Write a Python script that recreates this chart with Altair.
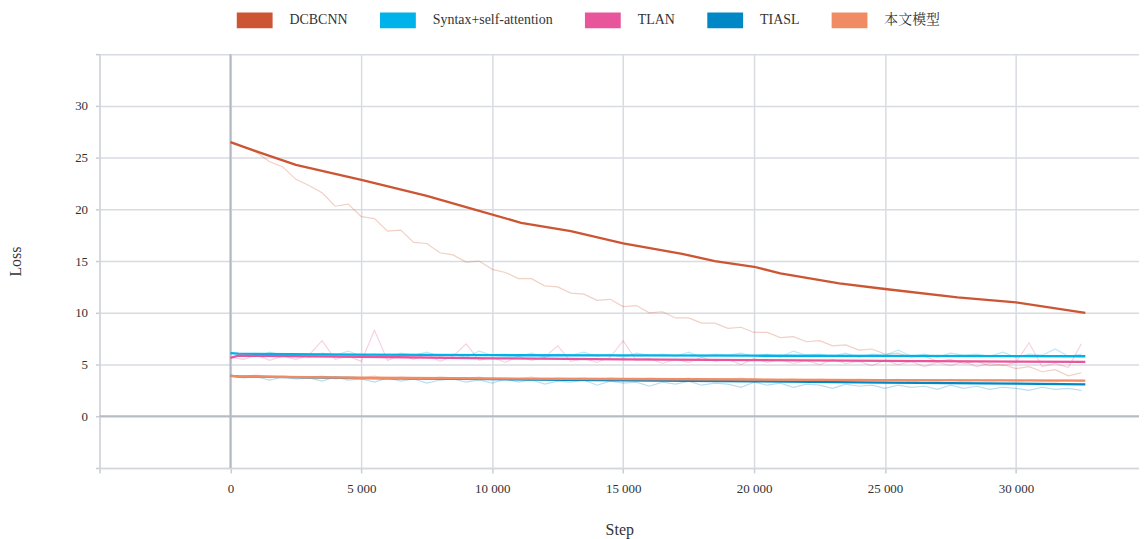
import altair as alt
import pandas as pd

FONT = "Liberation Serif, Noto Serif CJK SC, Noto Sans CJK SC, serif"

models = ["DCBCNN", "Syntax+self-attention", "TLAN", "TIASL", "本文模型"]
colors = ["#cc5533", "#00b2ea", "#e9559b", "#0088c6", "#f08b63"]

# raw (unsmoothed) loss, sampled every 500 steps
raw_steps = list(range(0, 33000, 500))
dcbcnn_raw = [26.5, 26.0, 25.5, 24.6, 24.1, 22.9, 22.3, 21.6, 20.3, 20.5, 19.3,
              19.1, 17.9, 18.0, 16.8, 16.7, 15.8, 15.6, 14.9, 15.0, 14.2, 13.9,
              13.3, 13.3, 12.6, 12.5, 11.9, 11.8, 11.2, 11.3, 10.6, 10.7, 10.0,
              10.1, 9.5, 9.5, 9.0, 9.0, 8.5, 8.6, 8.1, 8.1, 7.6, 7.7,
              7.2, 7.3, 6.8, 6.9, 6.4, 6.5, 6.0, 6.1, 5.7, 5.8, 5.3,
              5.5, 5.1, 5.3, 4.9, 5.0, 4.6, 4.8, 4.3, 4.5, 3.9, 4.2]
syntax_raw = [6.1, 6.0, 5.8, 6.2, 5.9, 6.0, 5.7, 6.1, 5.9, 6.3, 5.8,
              6.0, 5.7, 6.1, 5.9, 6.2, 5.8, 6.0, 5.7, 6.3, 5.9, 6.0,
              5.8, 6.1, 5.7, 6.0, 5.9, 6.2, 5.8, 6.0, 5.7, 6.1, 5.9,
              6.0, 5.8, 6.2, 5.7, 6.0, 5.9, 6.1, 5.8, 6.0, 5.7, 6.3,
              5.9, 6.0, 5.8, 6.1, 5.7, 6.0, 5.9, 6.4, 5.8, 6.0, 5.7,
              6.1, 5.9, 6.0, 5.8, 6.2, 5.7, 6.0, 5.9, 6.5, 5.8, 6.0]
tlan_raw = [5.7, 5.5, 5.9, 5.4, 5.8, 5.5, 5.9, 7.3, 5.5, 5.8, 5.3,
            8.3, 5.4, 5.9, 5.5, 6.0, 5.3, 5.8, 7.0, 5.4, 5.7, 5.2,
            5.8, 5.4, 5.7, 6.8, 5.3, 5.6, 5.2, 5.7, 7.3, 5.4, 5.6,
            5.1, 5.5, 5.2, 5.7, 5.3, 5.5, 5.0, 5.6, 5.2, 5.5, 5.1,
            5.4, 5.0, 5.5, 5.1, 5.3, 4.9, 5.4, 5.0, 5.3, 4.8, 5.2,
            4.9, 5.3, 4.8, 5.1, 4.9, 5.2, 7.1, 4.8, 5.1, 4.7, 7.0]
tiasl_raw = [3.9, 3.7, 3.8, 3.5, 3.8, 3.6, 3.7, 3.4, 3.8, 3.5, 3.6,
             3.3, 3.7, 3.4, 3.6, 3.2, 3.5, 3.6, 3.3, 3.5, 3.2, 3.6,
             3.3, 3.5, 3.1, 3.4, 3.3, 3.5, 3.0, 3.4, 3.2, 3.3, 2.9,
             3.3, 3.1, 3.4, 3.0, 3.2, 3.1, 2.8, 3.3, 3.0, 3.2, 2.8,
             3.1, 3.0, 2.7, 3.1, 2.9, 3.0, 2.7, 3.0, 2.8, 2.9, 2.6,
             3.0, 2.7, 2.9, 2.6, 2.8, 2.7, 2.5, 2.8, 2.6, 2.7, 2.5]
ours_raw = [3.9, 3.8, 4.0, 3.7, 3.9, 3.8, 3.7, 3.9, 3.6, 3.8, 3.7,
            3.9, 3.6, 3.8, 3.7, 3.6, 3.8, 3.7, 3.6, 3.8, 3.5, 3.7,
            3.6, 3.8, 3.5, 3.7, 3.6, 3.7, 3.5, 3.7, 3.6, 3.5, 3.7,
            3.6, 3.5, 3.7, 3.4, 3.6, 3.5, 3.7, 3.4, 3.6, 3.5, 3.6,
            3.4, 3.6, 3.5, 3.4, 3.6, 3.5, 3.4, 3.6, 3.3, 3.5, 3.4,
            3.6, 3.3, 3.5, 3.4, 3.5, 3.3, 3.5, 3.4, 3.3, 3.5, 3.4]

# smoothed curves
dcbcnn_steps = [0, 1100, 2500, 5000, 7500, 9300, 11100, 13000, 15000, 17250,
                18500, 20000, 21000, 23250, 25000, 27770, 30000, 32650]
dcbcnn_smooth = [26.5, 25.5, 24.3, 22.85, 21.3, 20.0, 18.7, 17.9, 16.7, 15.7,
                 15.0, 14.45, 13.8, 12.85, 12.3, 11.5, 11.0, 10.0]
low_steps = [0, 300, 5000, 10000, 15000, 20000, 25000, 30000, 32650]
syntax_smooth = [6.1, 6.05, 5.95, 5.9, 5.88, 5.85, 5.83, 5.82, 5.8]
tlan_smooth = [5.65, 5.85, 5.75, 5.6, 5.5, 5.42, 5.35, 5.28, 5.25]
tiasl_smooth = [3.9, 3.85, 3.68, 3.58, 3.48, 3.38, 3.25, 3.15, 3.08]
ours_smooth = [3.9, 3.85, 3.72, 3.65, 3.6, 3.55, 3.5, 3.47, 3.45]

raw_rows = []
for m, vals in zip(models, [dcbcnn_raw, syntax_raw, tlan_raw, tiasl_raw, ours_raw]):
    for s, v in zip(raw_steps, vals):
        raw_rows.append({"step": s, "loss": v, "model": m})
df_raw = pd.DataFrame(raw_rows)

smooth_rows = []
for s, v in zip(dcbcnn_steps, dcbcnn_smooth):
    smooth_rows.append({"step": s, "loss": v, "model": models[0]})
for m, vals in zip(models[1:], [syntax_smooth, tlan_smooth, tiasl_smooth, ours_smooth]):
    for s, v in zip(low_steps, vals):
        smooth_rows.append({"step": s, "loss": v, "model": m})
df_smooth = pd.DataFrame(smooth_rows)

x_ticks = [-5000, 0, 5000, 10000, 15000, 20000, 25000, 30000]
y_ticks = [-5, 0, 5, 10, 15, 20, 25, 30, 35]

x_enc = alt.X(
    "step:Q",
    scale=alt.Scale(domain=[-5000, 34700], nice=False, zero=False),
    axis=alt.Axis(
        values=x_ticks,
        grid=True,
        labelExpr="datum.value < 0 ? '' : replace(format(datum.value, ',d'), ',', ' ')",
        title="Step",
        titlePadding=26,
        labelPadding=10,
        tickSize=5,
    ),
)
y_enc = alt.Y(
    "loss:Q",
    scale=alt.Scale(domain=[-5, 35], nice=False, zero=False),
    axis=alt.Axis(
        values=y_ticks,
        grid=True,
        labelExpr="datum.value < 0 || datum.value > 30 ? '' : datum.label",
        title="Loss",
        titleX=-84,
        titleBaseline="middle",
        labelPadding=8,
        tickSize=4,
    ),
)
color_scale = alt.Scale(domain=models, range=colors)

zero_df = pd.DataFrame({"z": [0]})
vrule = alt.Chart(zero_df).mark_rule(color="#b3b8c4", strokeWidth=2).encode(x=alt.X(datum=0))
hrule = alt.Chart(zero_df).mark_rule(color="#b7bbc3", strokeWidth=2).encode(y=alt.Y(datum=0))

raw = alt.Chart(df_raw).mark_line(strokeWidth=1.2, opacity=0.28).encode(
    x=x_enc, y=y_enc,
    color=alt.Color("model:N", scale=color_scale, sort=models, legend=None),
)
smooth = alt.Chart(df_smooth).mark_line(strokeWidth=2.3).encode(
    x=x_enc, y=y_enc,
    color=alt.Color(
        "model:N", scale=color_scale, sort=models,
        legend=alt.Legend(
            title=None, orient="none", legendX=130, legendY=-60,
            direction="horizontal", columns=5,
            symbolType="stroke", symbolSize=1296, symbolStrokeWidth=16,
            labelOffset=9, columnPadding=0, labelFontSize=14,
            labelFont=FONT, labelColor="#333333", symbolOpacity=1,
        ),
    ),
)

chart = (
    alt.layer(vrule, hrule, raw, smooth)
    .resolve_legend(color="independent")
    .properties(
        width=1045, height=416,
        autosize=alt.AutoSizeParams(type="none"),
        padding={"left": 92, "top": 45, "right": 0, "bottom": 70},
    )
    .configure_view(stroke=None)
    .configure_axis(
        labelFont=FONT, titleFont=FONT, labelFontSize=13, titleFontSize=16,
        labelColor="#333333", titleColor="#333333", titleFontWeight="normal",
        gridColor="#d8dbe2", gridWidth=1.5, domainColor="#d3d6dd", domainWidth=1.5,
        tickColor="#c9ccd4", tickWidth=1.5,
    )
)

chart.save("out.html", embed_options={"renderer": "svg", "actions": False})
